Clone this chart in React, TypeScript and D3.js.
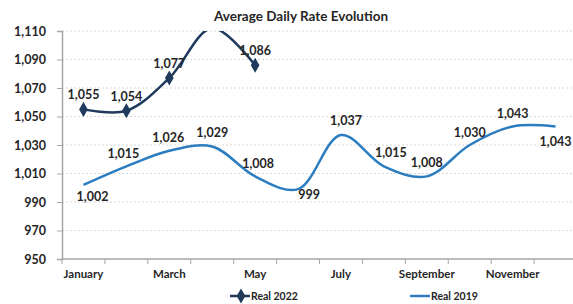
import React, { useEffect, useRef } from 'react';
import * as d3 from 'd3';

const months = ['January', 'February', 'March', 'April', 'May', 'June', 'July', 'August', 'September', 'October', 'November', 'December'];
const real2022 = [1055, 1054, 1077, 1112, 1086];
const real2019 = [1002, 1015, 1026, 1029, 1008, 999, 1037, 1015, 1008, 1030, 1043, 1043];
const yTicks = [950, 970, 990, 1010, 1030, 1050, 1070, 1090, 1110];
// label placement for 2019 series: [dx, dy] relative to point
const labelOffsets2019: [number, number][] = [
  [9, 12], [-3, -12], [-1, -13], [0, -13], [3, -12], [11, 6],
  [5, -14], [7, -13], [0, -13], [0, -12], [0, -12], [0, 16],
];

const W = 573;
const H = 304;
const FONT = 'Lato, "DejaVu Sans", sans-serif';

const App: React.FC = () => {
  const svgRef = useRef<SVGSVGElement>(null);

  useEffect(() => {
    if (!svgRef.current) return;
    const svg = d3.select(svgRef.current);
    svg.selectAll('*').remove();

    const margin = { left: 62, right: -4, top: 31, bottom: 45 };
    const x = d3.scaleBand<string>().domain(months).range([margin.left, W - margin.right]);
    const y = d3.scaleLinear().domain([950, 1110]).range([H - margin.bottom, margin.top]);
    const cx = (i: number) => (x(months[i]) as number) + x.bandwidth() / 2;

    svg.append('defs').append('clipPath').attr('id', 'plot')
      .append('rect')
      .attr('x', margin.left).attr('y', margin.top)
      .attr('width', W - margin.right - margin.left).attr('height', H - margin.bottom - margin.top);

    // Title
    svg.append('text')
      .attr('x', 301).attr('y', 21)
      .attr('text-anchor', 'middle')
      .attr('font-family', FONT).attr('font-weight', 'bold').attr('font-size', 13.5)
      .attr('fill', '#262626')
      .text('Average Daily Rate Evolution');

    // Gridlines
    svg.append('g').selectAll('line')
      .data(yTicks.slice(1))
      .enter().append('line')
      .attr('x1', margin.left).attr('x2', W)
      .attr('y1', d => y(d)).attr('y2', d => y(d))
      .attr('stroke', '#cfcfcf').attr('stroke-dasharray', '2,2').attr('stroke-width', 0.8);

    // Y axis
    const yAxis = svg.append('g')
      .attr('transform', `translate(${margin.left},0)`)
      .call(d3.axisLeft(y).tickValues(yTicks).tickSize(5).tickFormat(d3.format(',')));
    yAxis.select('.domain').attr('stroke', '#a6a6a6').attr('stroke-width', 1.5);
    yAxis.selectAll('.tick line').attr('stroke', '#a6a6a6');
    yAxis.selectAll('.tick text')
      .attr('x', -16)
      .attr('font-family', FONT).attr('font-weight', 'bold').attr('font-size', 12.5)
      .attr('fill', '#262626');

    // X axis
    const xAxis = svg.append('g')
      .attr('transform', `translate(0,${H - margin.bottom})`);
    xAxis.append('line')
      .attr('x1', margin.left).attr('x2', W)
      .attr('stroke', '#a6a6a6').attr('stroke-width', 1.5);
    xAxis.selectAll('line.tk')
      .data(months)
      .enter().append('line')
      .attr('class', 'tk')
      .attr('x1', d => x(d) as number).attr('x2', d => x(d) as number)
      .attr('y1', 0).attr('y2', 5)
      .attr('stroke', '#a6a6a6');
    xAxis.selectAll('text')
      .data(months.filter((_, i) => i % 2 === 0))
      .enter().append('text')
      .attr('x', d => (x(d) as number) + x.bandwidth() / 2)
      .attr('y', 19)
      .attr('text-anchor', 'middle')
      .attr('font-family', FONT).attr('font-weight', 'bold').attr('font-size', 11.5)
      .attr('fill', '#262626')
      .text(d => d);

    const line = d3.line<number>()
      .x((_, i) => cx(i))
      .y(d => y(d))
      .curve(d3.curveCatmullRom.alpha(0.5));

    const c2019 = '#2c7dc0';
    const c2022 = '#1f3a5c';

    const plot = svg.append('g').attr('clip-path', 'url(#plot)');
    plot.append('path')
      .datum(real2019)
      .attr('d', line)
      .attr('fill', 'none').attr('stroke', c2019).attr('stroke-width', 2.5);
    plot.append('path')
      .datum(real2022)
      .attr('d', line)
      .attr('fill', 'none').attr('stroke', c2022).attr('stroke-width', 2.5);

    const diamond = d3.symbol().type(d3.symbolDiamond).size(65);
    const visible2022 = real2022.map((v, i) => ({ v, i })).filter(d => d.v <= 1110);
    svg.append('g').selectAll('path')
      .data(visible2022)
      .enter().append('path')
      .attr('d', diamond)
      .attr('transform', d => `translate(${cx(d.i)},${y(d.v)})`)
      .attr('fill', c2022);

    const fmt = d3.format(',');
    svg.append('g').selectAll('text')
      .data(visible2022)
      .enter().append('text')
      .attr('x', d => cx(d.i))
      .attr('y', d => y(d.v) - 10)
      .attr('text-anchor', 'middle')
      .attr('font-family', FONT).attr('font-weight', 'bold').attr('font-size', 12.5)
      .attr('fill', '#262626')
      .text(d => fmt(d.v));

    svg.append('g').selectAll('text')
      .data(real2019)
      .enter().append('text')
      .attr('x', (_, i) => cx(i) + labelOffsets2019[i][0])
      .attr('y', (d, i) => y(d) + labelOffsets2019[i][1] + 4)
      .attr('text-anchor', 'middle')
      .attr('font-family', FONT).attr('font-weight', 'bold').attr('font-size', 12.5)
      .attr('fill', '#262626')
      .text(d => fmt(d));

    // Legend
    const lg = svg.append('g').attr('transform', `translate(0,${H - 8})`);
    lg.append('line').attr('x1', 230).attr('x2', 250).attr('stroke', c2022).attr('stroke-width', 2.5);
    lg.append('path').attr('d', diamond).attr('transform', 'translate(241,0)').attr('fill', c2022);
    lg.append('text').attr('x', 251).attr('y', 4)
      .attr('font-family', FONT).attr('font-weight', 'bold').attr('font-size', 10.5)
      .attr('fill', '#262626').text('Real 2022');
    lg.append('line').attr('x1', 410).attr('x2', 430).attr('stroke', c2019).attr('stroke-width', 2.5);
    lg.append('text').attr('x', 431).attr('y', 4)
      .attr('font-family', FONT).attr('font-weight', 'bold').attr('font-size', 10.5)
      .attr('fill', '#262626').text('Real 2019');
  }, []);

  return (
    <div style={{ position: 'absolute', left: 0, top: 0, width: W, height: H, background: '#fff' }}>
      <svg ref={svgRef} width={W} height={H} />
    </div>
  );
};

export default App;
